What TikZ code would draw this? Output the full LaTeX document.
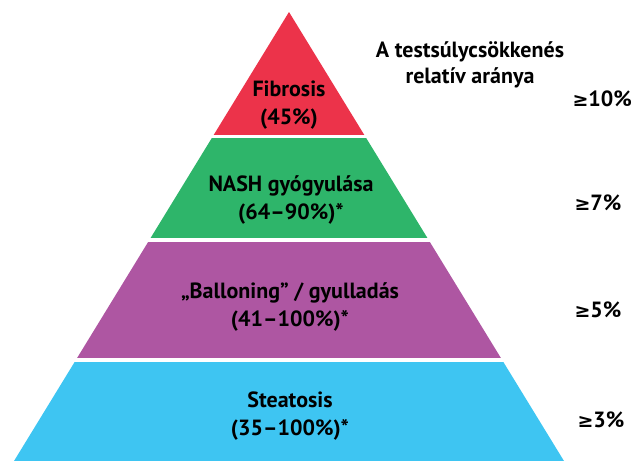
\documentclass[tikz,border=0pt]{standalone}
\usepackage{fontspec}
\setmainfont{PT Sans}
\newfontfamily\geqfont{DejaVu Sans}
\usepackage{tikz}

\definecolor{fibred}{RGB}{236,51,74}
\definecolor{nashgreen}{RGB}{46,181,106}
\definecolor{ballpurple}{RGB}{174,86,162}
\definecolor{steatblue}{RGB}{62,197,242}
\newcommand{\gq}{{\geqfont\fontsize{19}{22}\selectfont ≥}}

\begin{document}
\begin{tikzpicture}[x=1pt, y=-1pt,
	layer/.style={align=center, font=\bfseries\fontsize{22}{28}\selectfont},
	pct/.style={anchor=west, font=\bfseries\fontsize{22}{24}\selectfont}]
\useasboundingbox (0,0) rectangle (633,461);
\begin{scope}
\clip (289,12) -- (14,461) -- (564,461) -- cycle;
\foreach \ya/\yb/\col in {12/135/fibred, 138/238/nashgreen, 242/358/ballpurple, 362/461/steatblue} {
	\fill[\col] (0,\ya) rectangle (633,\yb);
	};
\end{scope}

\node[layer] (fibrosis) at (289,105) {Fibrosis\\(45\%)};
\node[layer] (nash) at (291,200) {NASH gyógyulása\\(64–90\%)*};
\node[layer] (balloning) at (290,307) {„Balloning” / gyulladás\\(41–100\%)*};
\node[layer] (steatosis) at (290,416) {Steatosis\\(35–100\%)*};

\node[layer, font=\bfseries\fontsize{22}{26}\selectfont] (title) at (470,65) {A testsúlycsökkenés\\relatív aránya};
\node[pct] (p10) at (569,99) {\gq10\%};
\node[pct] (p7) at (571,203) {\gq7\%};
\node[pct] (p5) at (571,310) {\gq5\%};
\node[pct] (p3) at (574,420) {\gq3\%};
\end{tikzpicture}
\end{document}
